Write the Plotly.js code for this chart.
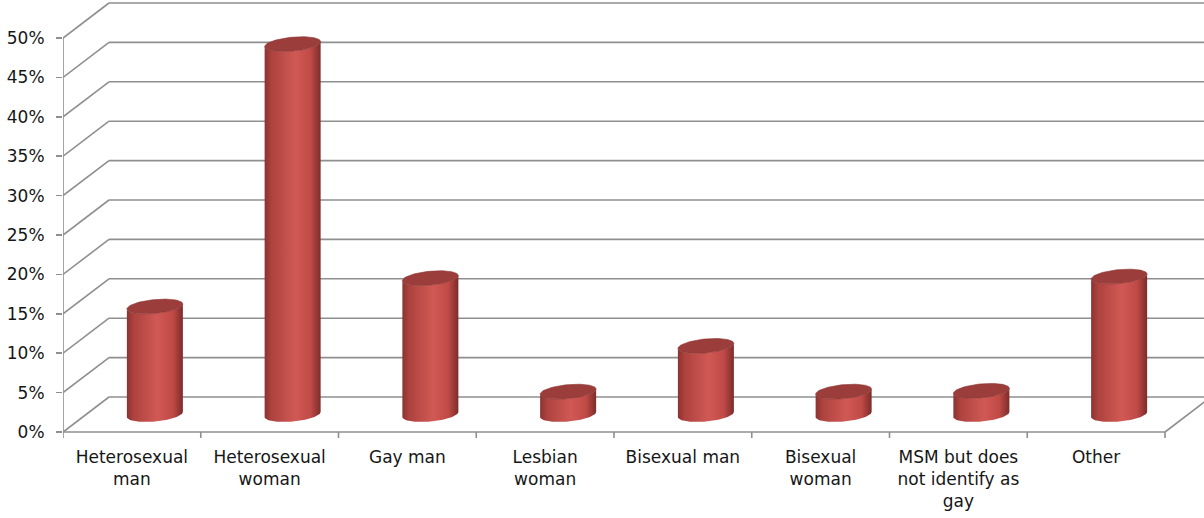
<!DOCTYPE html>
<html>
<head>
<meta charset="utf-8">
<script src="https://cdn.plot.ly/plotly-3.0.1.min.js"></script>
<style>html,body{margin:0;padding:0;background:#fff;}#chart{width:1204px;height:518px;}</style>
</head>
<body>
<div id="chart"></div>
<script>
// ---------- data ----------
const categories = ['Heterosexual<br>man', 'Heterosexual<br>woman', 'Gay man', 'Lesbian<br>woman',
                    'Bisexual man', 'Bisexual<br>woman', 'MSM but does<br>not identify as<br>gay', 'Other'];
const values = [0.137, 0.470, 0.173, 0.029, 0.087, 0.029, 0.030, 0.175];
const yTickVals = [0, 0.05, 0.10, 0.15, 0.20, 0.25, 0.30, 0.35, 0.40, 0.45, 0.50];
const yTickText = ['0%', '5%', '10%', '15%', '20%', '25%', '30%', '35%', '40%', '45%', '50%'];

// ---------- geometry / style ----------
const W = 1204, H = 518;
const mL = 63, mT = 0, mB = 73;
const frontRightPx = 1165, zeroPx = 432, topValPx = 38;
const nCat = categories.length;
const pxPerX = (frontRightPx - mL) / nCat;
const pxPerY = (zeroPx - topValPx) / 0.5;
const xMin = -0.5, xMax = -0.5 + (W - mL) / pxPerX;
const yMax = (zeroPx - mT) / pxPerY, yMin = -((H - mB) - zeroPx) / pxPerY;
const depthDX = 46 / pxPerX, depthDY = 35 / pxPerY;
const rx = 28 / pxPerX, ry = 7 / pxPerY;
const tilt = 0.09 * pxPerX / pxPerY;   // y-units per x-unit
const gridColor = '#8f8f8f';
const bodyScale = [[0, '#8a3331'], [0.12, '#ad423e'], [0.55, '#d15955'], [0.82, '#c04a46'], [1, '#7c2c2a']];
const capColor = '#9b3d3a';

const traces = [];
const N = 48;
values.forEach((v, i) => {
  const cx = i + depthDX / 2;
  const yb = depthDY / 2, yt = v + depthDY / 2;
  const ex = t => cx + rx * Math.cos(t);
  const ey = (c, t) => c + ry * Math.sin(t) + tilt * rx * Math.cos(t);
  const bx = [], by = [];
  for (let k = 0; k <= N; k++) { const t = Math.PI + Math.PI * k / N; bx.push(ex(t)); by.push(ey(yt, t)); }
  for (let k = 0; k <= N; k++) { const t = 2 * Math.PI - Math.PI * k / N; bx.push(ex(t)); by.push(ey(yb, t)); }
  traces.push({
    type: 'scatter', mode: 'lines', x: bx, y: by, fill: 'toself',
    fillgradient: {type: 'horizontal', colorscale: bodyScale},
    line: {width: 0}, hoverinfo: 'skip', showlegend: false
  });
  const cxs = [], cys = [];
  for (let k = 0; k <= 2 * N; k++) { const t = 2 * Math.PI * k / (2 * N); cxs.push(ex(t)); cys.push(ey(yt, t)); }
  traces.push({
    type: 'scatter', mode: 'lines', x: cxs, y: cys, fill: 'toself', fillcolor: capColor,
    line: {width: 0.6, color: '#8c3634'}, hoverinfo: 'skip', showlegend: false
  });
});

// ---------- frame shapes ----------
const shapes = [];
const ln = (x0, y0, x1, y1) => ({type: 'line', xref: 'x', yref: 'y', x0, y0, x1, y1, layer: 'below',
  line: {color: gridColor, width: 1.6}});
yTickVals.forEach(v => {
  shapes.push(ln(xMin, v, xMin + depthDX, v + depthDY));
  shapes.push(ln(xMin + depthDX, v + depthDY, xMax + 1, v + depthDY));
});
shapes.push(ln(xMin, 0, xMin, 0.5));
shapes.push(ln(xMin, 0, xMin + nCat, 0));
shapes.push(ln(xMin + nCat, 0, xMin + nCat + depthDX, depthDY));
for (let b = 0; b <= nCat; b++) shapes.push(ln(xMin + b, 0, xMin + b, -6 / pxPerY));

const layout = {
  width: W, height: H,
  margin: {l: mL, r: 0, t: mT, b: mB, pad: 0},
  paper_bgcolor: '#ffffff', plot_bgcolor: '#ffffff',
  font: {family: 'DejaVu Sans', size: 17, color: '#161616'},
  showlegend: false,
  xaxis: {range: [xMin, xMax], showgrid: false, zeroline: false, showline: false,
          tickvals: categories.map((c, i) => i), ticktext: categories, ticks: '',
          ticklabelstandoff: 0, fixedrange: true},
  yaxis: {range: [yMin, yMax], showgrid: false, zeroline: false, showline: false,
          tickvals: yTickVals, ticktext: yTickText, ticks: 'outside', ticklen: 6,
          tickwidth: 1.5, tickcolor: gridColor, ticklabelstandoff: 8, fixedrange: true},
  shapes: shapes
};

Plotly.newPlot('chart', traces, layout, {displayModeBar: false, staticPlot: true});
</script>
</body>
</html>
